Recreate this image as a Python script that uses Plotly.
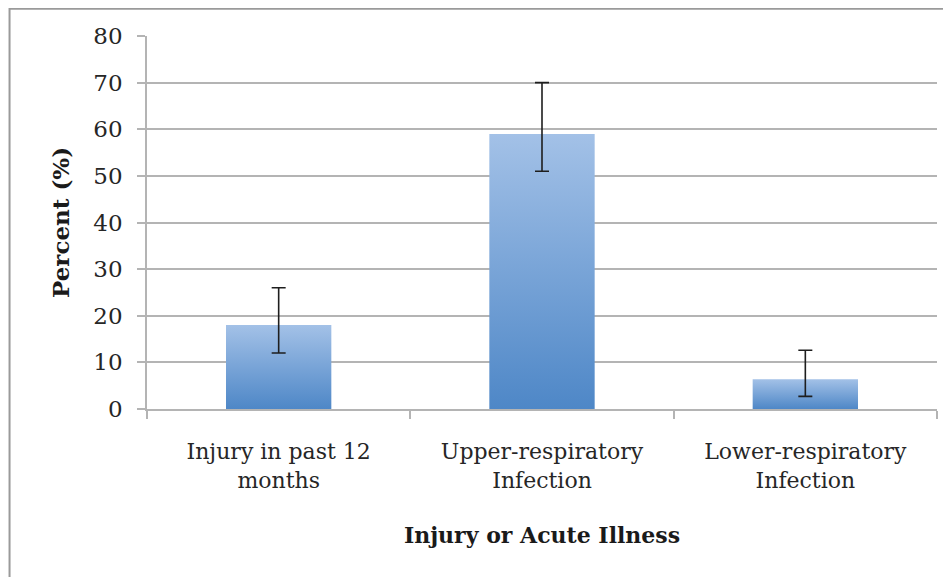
import plotly.graph_objects as go

# data
categories = ["Injury in past 12<br>months", "Upper-respiratory<br>Infection", "Lower-respiratory<br>Infection"]
percent = [18, 59, 6.4]
err_upper = [26, 70, 12.6]
err_lower = [12, 51, 2.7]

y_ticks = [0, 10, 20, 30, 40, 50, 60, 70, 80]

BAR_W = 0.4
FONT = "DejaVu Serif"
GRID = "#b4b4b4"

fig = go.Figure()

# bars with a vertical gradient, like the Excel original
for i, v in enumerate(percent):
    fig.add_trace(go.Scatter(
        x=[i - BAR_W / 2, i - BAR_W / 2, i + BAR_W / 2, i + BAR_W / 2, i - BAR_W / 2],
        y=[0, v, v, 0, 0],
        mode="lines", line=dict(width=0), fill="toself",
        fillgradient=dict(type="vertical",
                          colorscale=[[0, "#4e87c7"], [1, "#a3c1e7"]]),
        hoverinfo="skip", showlegend=False))

# error bars
fig.add_trace(go.Scatter(
    x=list(range(len(percent))), y=percent, mode="markers",
    marker=dict(size=0.1, color="rgba(0,0,0,0)"),
    error_y=dict(type="data", symmetric=False,
                 array=[u - v for u, v in zip(err_upper, percent)],
                 arrayminus=[v - l for v, l in zip(percent, err_lower)],
                 color="#1e1e1e", thickness=1.6, width=7),
    showlegend=False))

fig.update_xaxes(
    range=[-0.5, len(categories) - 0.5], automargin=False,
    tickmode="array", tickvals=list(range(len(categories))), ticktext=categories,
    ticks="", showgrid=False, zeroline=False,
    showline=True, linecolor=GRID, linewidth=1.5,
    minor=dict(tickmode="array", tickvals=[-0.5, 0.5, 1.5, 2.5],
               ticks="outside", ticklen=8, tickcolor=GRID, tickwidth=1.5, showgrid=False),
    tickfont=dict(family=FONT, size=22, color="#262626"),
    ticklabelstandoff=22,
    title=dict(text="<b>Injury or Acute Illness</b>", standoff=36,
               font=dict(family=FONT, size=22, color="#1a1a1a")))

fig.update_yaxes(
    range=[0, 80], tickvals=y_ticks, automargin=False,
    ticks="outside", ticklen=8, tickcolor=GRID, tickwidth=1.5,
    showgrid=True, gridcolor=GRID, gridwidth=1.5, zeroline=False,
    showline=True, linecolor=GRID, linewidth=1.5,
    tickfont=dict(family=FONT, size=23, color="#262626"),
    ticklabelstandoff=10,
    title=dict(text="<b>Percent (%)</b>", standoff=17,
               font=dict(family=FONT, size=23, color="#1a1a1a")))

# outer chart border (only top and left edges fall inside the picture)
fig.add_shape(type="rect", xref="paper", yref="paper",
              x0=-0.174, x1=1.1, y0=-0.6, y1=1.073,
              line=dict(color="#9a9a9a", width=2), layer="below")

fig.update_layout(
    width=951, height=577,
    margin=dict(l=139, r=22, t=28, b=176),
    plot_bgcolor="white", paper_bgcolor="white",
    font=dict(family=FONT),
)

fig.write_html("out.html")
